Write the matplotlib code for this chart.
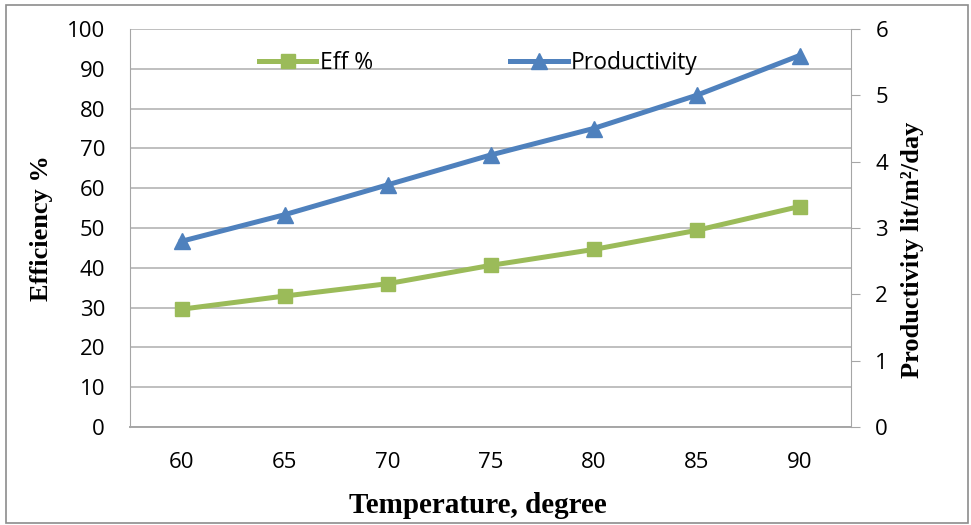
import matplotlib.pyplot as plt
from matplotlib.patches import Rectangle

temps = ["60", "65", "70", "75", "80", "85", "90"]
efficiency = [29.6, 32.9, 36.0, 40.6, 44.6, 49.4, 55.4]
productivity = [2.8, 3.2, 3.65, 4.1, 4.5, 5.0, 5.6]

GREEN = "#9BBB59"
BLUE = "#4F81BD"
GRID = "#BFBFBF"
AXIS = "#A6A6A6"
tick_font = "Open Sans"
label_font = "Liberation Serif"
tick_size = 16

fig = plt.figure(figsize=(9.71, 5.25), dpi=100)
ax = fig.add_axes([130 / 971, 1 - 427 / 525, 721 / 971, 398 / 525])
ax2 = ax.twinx()

x = list(range(len(temps)))
l1, = ax.plot(x, efficiency, color=GREEN, lw=3.6, marker="s", ms=10.5,
              label="Eff %")
l2, = ax2.plot(x, productivity, color=BLUE, lw=3.6, marker="^", ms=12,
               label="Productivity")

ax.set_xlim(-0.5, len(temps) - 0.5)
ax.set_ylim(0, 100)
ax.set_yticks(range(0, 101, 10))
ax2.set_ylim(0, 6)
ax2.set_yticks(range(0, 7))
ax.set_xticks(x)
ax.set_xticklabels(temps)

ax.yaxis.grid(True, color=GRID, lw=1.4)
ax.set_axisbelow(True)

for a in (ax, ax2):
    for s in a.spines.values():
        s.set_visible(False)
ax.spines["left"].set_visible(True)
ax.spines["left"].set_color(AXIS)
ax.spines["bottom"].set_visible(True)
ax.spines["bottom"].set_color(AXIS)
ax.spines["bottom"].set_linewidth(1.4)
ax2.spines["right"].set_visible(True)
ax2.spines["right"].set_color(AXIS)

ax.tick_params(axis="y", length=0, pad=18, labelsize=tick_size)
ax.tick_params(axis="x", length=0, pad=18, labelsize=tick_size)
ax2.tick_params(axis="y", length=6.5, color=AXIS, pad=11, labelsize=tick_size)
for lab in ax.get_xticklabels() + ax.get_yticklabels() + ax2.get_yticklabels():
    lab.set_fontfamily(tick_font)

ax.set_xlabel("Temperature, degree", fontfamily=label_font, fontweight="bold",
              fontsize=21, labelpad=14)
ax.xaxis.label.set_x(0.483)
ax.set_ylabel("Efficiency %", fontfamily=label_font, fontweight="bold",
              fontsize=19, labelpad=10)
ax2.set_ylabel("Productivity lit/m²/day", fontfamily=label_font,
               fontweight="bold", fontsize=19, labelpad=9)
ax2.yaxis.label.set_y(0.445)

leg = ax.legend([l1, l2], ["Eff %", "Productivity"], loc="center left",
                bbox_to_anchor=(0.179, 0.915), ncol=2, frameon=False,
                prop={"family": tick_font, "size": 16.5},
                handlelength=2.5, columnspacing=6.0, handletextpad=0.15,
                borderpad=0, borderaxespad=0)

fig.patches.append(Rectangle((6 / 971, 2 / 525), 962 / 971, 518 / 525,
                             transform=fig.transFigure, fill=False,
                             edgecolor="#8C8C8C", lw=1.2))

fig.savefig("out.png", dpi=100)
